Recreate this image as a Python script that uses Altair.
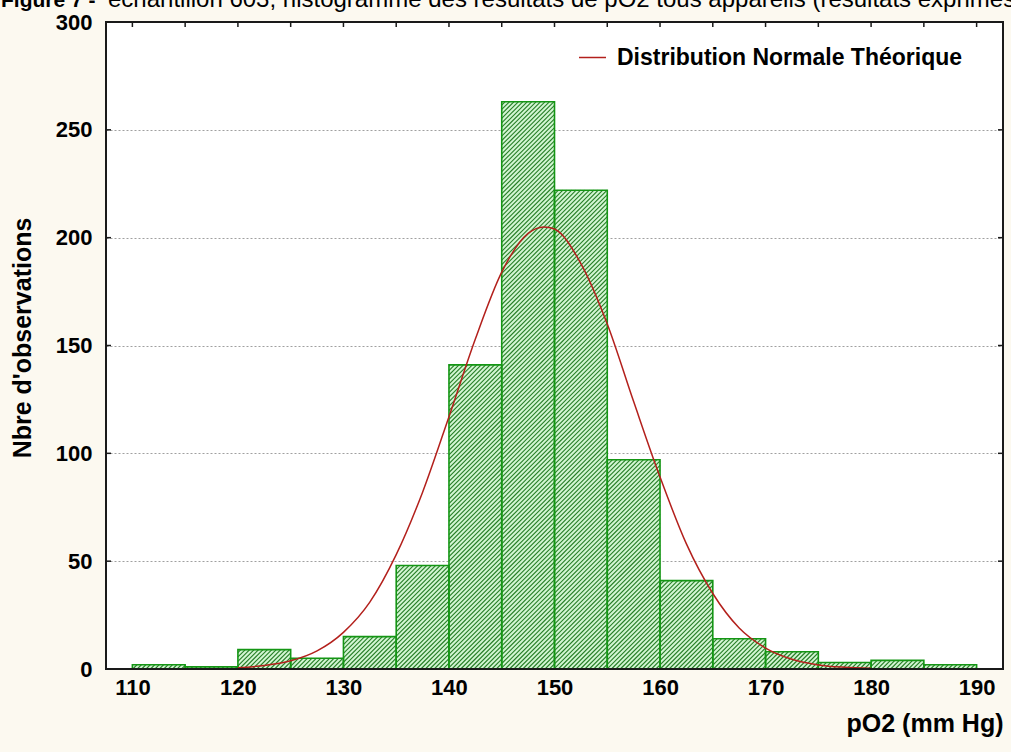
import math

import altair as alt
import pandas as pd

# Histogram of pO2 results (mm Hg), bins of 5
bin_start = [110, 115, 120, 125, 130, 135, 140, 145, 150, 155, 160, 165, 170, 175, 180, 185]
bin_end = [115, 120, 125, 130, 135, 140, 145, 150, 155, 160, 165, 170, 175, 180, 185, 190]
counts = [2, 1, 9, 5, 15, 48, 141, 263, 222, 97, 41, 14, 8, 3, 4, 2]

# Theoretical normal distribution (expected counts per bin)
curve_x = [120, 122.5, 125, 127.5, 130, 132.5, 135, 137.5, 140, 142.5, 145, 147.5, 149,
           150, 152.5, 155, 157.5, 160, 162.5, 165, 167.5, 170, 172.5, 175, 177.5, 180]
curve_y = [0.6, 1.6, 3.8, 8.4, 17, 31, 53, 82, 117, 153, 184, 202, 205,
           204, 188, 160, 124, 89, 58, 35, 19, 9.7, 4.5, 1.9, 0.8, 0.3]

x_labels = [110, 120, 130, 140, 150, 160, 170, 180, 190]
y_labels = [0, 50, 100, 150, 200, 250, 300]
x_minor = list(range(110, 191, 5))

legend_name = "Distribution Normale Théorique"
title_bold = "Figure 7 -"
title_rest = "échantillon 603, histogramme des résultats de pO2 tous appareils (résultats exprimés"
x_title = "pO2 (mm Hg)"
y_title = "Nbre d'observations"

# ---- layout / style ----
W, H = 897, 647
X_DOMAIN = [107.5, 192.5]
Y_DOMAIN = [0, 300]
AXIS_FONT = "Liberation Sans"
FILL = "#d2f6d2"
HATCH = "#267d26"
OUTLINE = "#149614"
CURVE = "#b3201c"

bars = pd.DataFrame({"start": bin_start, "end": bin_end, "count": counts})
curve = pd.DataFrame({"x": curve_x, "y": curve_y, "serie": legend_name})

# 45-degree hatch strokes clipped to each bar, expressed in data units
px_x = W / (X_DOMAIN[1] - X_DOMAIN[0])
px_y = H / (Y_DOMAIN[1] - Y_DOMAIN[0])
slope = px_x / px_y
step = 0.42
rows = []
for a, b, h in zip(bin_start, bin_end, counts):
    k0 = math.floor((a - h / slope) / step)
    k1 = math.ceil(b / step)
    for k in range(k0, k1 + 1):
        c = k * step
        xs = max(a, c)
        xe = min(b, c + h / slope)
        if xe - xs > 1e-9:
            rows.append({"x": xs, "x2": xe, "y": slope * (xs - c), "y2": slope * (xe - c)})
hatch = pd.DataFrame(rows)

xscale = alt.Scale(domain=X_DOMAIN, nice=False, zero=False)
yscale = alt.Scale(domain=Y_DOMAIN, nice=False)

xaxis = alt.Axis(
    values=x_labels, title=x_title, grid=False, ticks=False, tickSize=0, domain=False,
    labelFont=AXIS_FONT, labelFontSize=22, labelFontWeight="bold", labelColor="#000",
    labelPadding=8, labelFlush=False,
    titleFont=AXIS_FONT, titleFontSize=25, titleFontWeight="bold", titleColor="#000",
    titleAlign="right", titleX=W, titleY=62, titleBaseline="alphabetic",
)
yaxis = alt.Axis(
    values=y_labels, title=y_title, grid=True, gridColor="#a0a0a0", gridDash=[2, 2],
    gridWidth=1, ticks=False, tickSize=0, domain=False,
    labelFont=AXIS_FONT, labelFontSize=22, labelFontWeight="bold", labelColor="#000",
    labelPadding=14, labelFlush=False,
    titleFont=AXIS_FONT, titleFontSize=25, titleFontWeight="bold", titleColor="#000",
    titleX=-76, titleY=(H / 2) - 8, titleAngle=-90, titleAlign="center",
    titleBaseline="alphabetic",
)


def X(field):
    return alt.X(field, type="quantitative", scale=xscale, axis=xaxis)


def Y(field):
    return alt.Y(field, type="quantitative", scale=yscale, axis=yaxis)


bar_fill = alt.Chart(bars).mark_rect(fill=FILL, strokeWidth=0).encode(
    x=X("start"), x2="end", y=Y("count"), y2=alt.datum(0)
)

bar_hatch = alt.Chart(hatch).mark_rule(color=HATCH, strokeWidth=1.1).encode(
    x=X("x"), x2="x2", y=Y("y"), y2="y2"
)

bar_outline = alt.Chart(bars).mark_rect(fill=None, stroke=OUTLINE, strokeWidth=1.6).encode(
    x=X("start"), x2="end", y=Y("count"), y2=alt.datum(0)
)

normal = alt.Chart(curve).mark_line(strokeWidth=1.5, interpolate="monotone").encode(
    x=X("x"),
    y=Y("y"),
    color=alt.Color(
        "serie:N",
        scale=alt.Scale(range=[CURVE]),
        legend=alt.Legend(
            orient="none", legendX=472, legendY=21, title=None,
            symbolType="stroke", symbolSize=729, symbolStrokeWidth=1.5,
            labelFont=AXIS_FONT, labelFontSize=23, labelFontWeight="bold",
            labelColor="#000", labelOffset=10, labelLimit=0, padding=0,
        ),
    ),
)

frame = alt.Chart(pd.DataFrame({"k": [0]})).mark_rect(
    fill=None, stroke="#1a1a1a", strokeWidth=2
).encode(
    x=alt.datum(X_DOMAIN[0], scale=xscale),
    x2=alt.datum(X_DOMAIN[1]),
    y=alt.datum(Y_DOMAIN[0], scale=yscale),
    y2=alt.datum(Y_DOMAIN[1]),
)

xt = pd.DataFrame({"v": x_minor})
yt = pd.DataFrame({"v": y_labels})
tick_style = dict(color="#1a1a1a", strokeWidth=1.5)
ticks_top = alt.Chart(xt).mark_rule(**tick_style).encode(
    x=X("v"), y=alt.value(0), y2=alt.value(5)
)
ticks_left = alt.Chart(yt).mark_rule(**tick_style).encode(
    y=Y("v"), x=alt.value(0), x2=alt.value(5)
)
ticks_right = alt.Chart(yt).mark_rule(**tick_style).encode(
    y=Y("v"), x=alt.value(W - 5), x2=alt.value(W)
)

# Caption line, partly above the top edge of the page
title_a = alt.Chart(pd.DataFrame({"t": [title_bold]})).mark_text(
    font="Liberation Sans", fontSize=21, fontWeight="bold", align="left",
    baseline="alphabetic", color="#000"
).encode(text="t:N", x=alt.value(-105), y=alt.value(-15))

title_b = alt.Chart(pd.DataFrame({"t": [title_rest]})).mark_text(
    font="Liberation Sans", fontSize=24, align="left", baseline="alphabetic", color="#000"
).encode(text="t:N", x=alt.value(2), y=alt.value(-15))

chart = alt.layer(
    bar_fill, bar_hatch, bar_outline, normal, frame,
    ticks_top, ticks_left, ticks_right, title_a, title_b,
).properties(
    width=W, height=H,
    autosize=alt.AutoSizeParams(type="none"),
    padding={"left": 106, "top": 22, "right": 8, "bottom": 83},
    background="#fcf9f0",
).configure_view(
    fill="#ffffff", stroke=None
)

chart.save("out.html", embed_options={"renderer": "svg", "actions": False})
